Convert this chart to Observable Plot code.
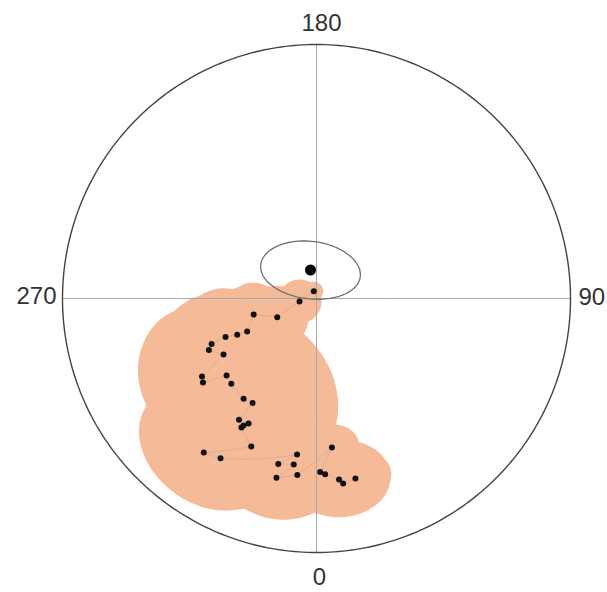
<!DOCTYPE html>
<html>
<head>
<meta charset="utf-8">
<script src="https://cdn.jsdelivr.net/npm/d3@7"></script>
<script src="https://cdn.jsdelivr.net/npm/@observablehq/plot@0.6"></script>
<style>
  html, body { margin: 0; padding: 0; background: #fff; }
  #chart svg { display: block; }
</style>
</head>
<body>
<div id="chart"></div>
<script>
// ---- data ----
// site directions: azimuth (0 = bottom, 90 = right) and inclination (90 = centre)
const dec = [200.3, 280.0, 295.4, 284.3, 295.5, 294.6, 292.9, 293.4, 295.6, 301.1,
             304.3, 306.5, 310.6, 315.0, 324.0, 328.6, 327.4, 330.1, 331.5, 329.8,
             336.2, 323.8, 329.0, 352.9, 347.0, 352.2, 347.4, 353.8, 5.9, 1.2,
             2.8, 7.1, 8.2, 12.2];
const inc = [87.5, 84.5, 76.1, 69.2, 65.3, 61.9, 58.1, 52.9, 51.2, 54.8,
             44.6, 43.7, 51.5, 50.8, 49.6, 50.1, 42.8, 41.9, 43.3, 40.9,
             36.5, 25.8, 27.5, 38.1, 33.6, 34.4, 28.5, 30.8, 40.7, 32.2,
             31.3, 29.0, 27.3, 28.3];
// cone of confidence (degrees) for each site
const a95 = [3, 7, 10, 10, 14, 14, 15, 15, 16, 14,
             21, 22, 22, 26, 29, 24, 22, 15, 15, 22,
             18, 20, 18, 12, 16, 14, 16, 15, 8, 12,
             12, 14, 13, 10];
// mean direction and its confidence ellipse
const meanDec = 191.9;
const meanInc = 80.7;
const ellipseMajor = 16;    // degrees
const ellipseMinor = 9.2;   // degrees
const ellipseBearing = 109; // degrees, major axis
// axis labels
const axisAzimuths = [0, 90, 180, 270];
const axisLabels = ["0", "90", "180", "270"];

// ---- geometry helpers ----
const W = 607, H = 592;
const projection = d3.geoAzimuthalEqualArea()
  .rotate([0, -90])
  .scale(254 / Math.SQRT2)
  .translate([316, 298])
  .precision(0.1);

const points = dec.map((d, i) => ({lon: d, lat: inc[i], a95: a95[i]}));
const cones = points.map(p => d3.geoCircle().center([p.lon, p.lat]).radius(p.a95).precision(2)());

function destination(lon0, lat0, rho, beta) {
  const r = Math.PI / 180;
  const p0 = lat0 * r, l0 = lon0 * r, d = rho * r, b = beta * r;
  const p = Math.asin(Math.sin(p0) * Math.cos(d) + Math.cos(p0) * Math.sin(d) * Math.cos(b));
  const l = l0 + Math.atan2(Math.sin(b) * Math.sin(d) * Math.cos(p0), Math.cos(d) - Math.sin(p0) * Math.sin(p));
  return [l / r, p / r];
}
const ellipse = {
  type: "LineString",
  coordinates: d3.range(0, 361, 3).map(t => {
    const tr = t * Math.PI / 180;
    const a = ellipseMajor * Math.cos(tr), b = ellipseMinor * Math.sin(tr);
    return destination(meanDec, meanInc, Math.hypot(a, b), ellipseBearing + Math.atan2(b, a) * 180 / Math.PI);
  })
};
const primitive = d3.geoCircle().center([0, 90]).radius(90).precision(1)();
const cross = {type: "MultiLineString", coordinates: [
  [[0, 0], [0, 90], [180, 0]],
  [[270, 0], [0, 90], [90, 0]]
]};
const labels = axisAzimuths.map((a, i) => ({lon: a, lat: 0, text: axisLabels[i]}));
const peach = "#F5BA98";
const font = {fontSize: 24, fill: "#333", fontFamily: "Liberation Sans, Arial, sans-serif"};

const chart = Plot.plot({
  width: W,
  height: H,
  margin: 0,
  projection,
  style: {background: "#fff"},
  marks: [
    Plot.geo(cones, {fill: peach, stroke: "none"}),
    Plot.geo(cross, {stroke: "#a8a8a8", strokeWidth: 1}),
    Plot.geo(primitive, {stroke: "#444", strokeWidth: 1.4, fill: "none"}),
    Plot.line(points, {x: "lon", y: "lat", stroke: "#777", strokeWidth: 0.6, strokeOpacity: 0.3}),
    Plot.geo(ellipse, {stroke: "#6f6f6f", strokeWidth: 1.3, fill: "none"}),
    Plot.dot(points, {x: "lon", y: "lat", r: 3, fill: "#111", stroke: "none"}),
    Plot.dot([{lon: meanDec, lat: meanInc}], {x: "lon", y: "lat", r: 5.5, fill: "#000", stroke: "none"}),
    Plot.text(labels.filter(d => d.text === "180"), {x: "lon", y: "lat", text: "text", dx: 5, dy: -21, ...font}),
    Plot.text(labels.filter(d => d.text === "0"), {x: "lon", y: "lat", text: "text", dx: 3, dy: 25, ...font}),
    Plot.text(labels.filter(d => d.text === "270"), {x: "lon", y: "lat", text: "text", dx: -6, dy: -2, textAnchor: "end", ...font}),
    Plot.text(labels.filter(d => d.text === "90"), {x: "lon", y: "lat", text: "text", dx: 8, dy: -1, textAnchor: "start", ...font})
  ]
});
document.getElementById("chart").append(chart);
</script>
</body>
</html>
